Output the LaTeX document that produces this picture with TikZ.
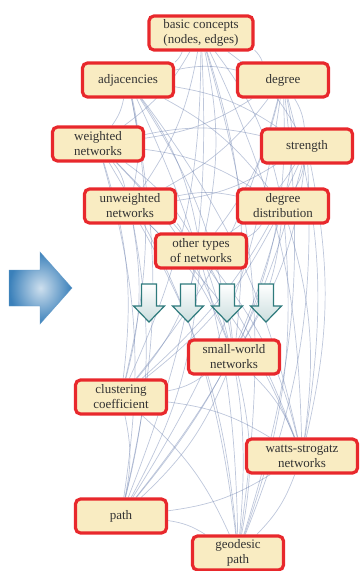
\documentclass[tikz,border=0pt]{standalone}
\usepackage{fontspec}
\setmainfont{Liberation Serif}
\usetikzlibrary{backgrounds}

\definecolor{boxfill}{RGB}{249,236,194}
\definecolor{boxred}{RGB}{232,40,44}
\definecolor{linkblue}{RGB}{110,130,175}
\definecolor{arrowblue}{RGB}{58,128,186}
\definecolor{arrowteal}{RGB}{46,122,124}

\begin{document}
\begin{tikzpicture}[x=1pt,y=-1pt,
		topic/.style={rounded corners=5pt,fill=boxfill,draw=boxred,line width=3.2pt,
			minimum width=91pt,minimum height=34pt,align=center,inner sep=3pt,
			font=\fontsize{13}{15}\selectfont,text=black!80},
		link/.style={draw=linkblue,opacity=0.45,line width=0.7pt},
		down/.style={draw=arrowteal,line width=1.2pt,top color=white,bottom color=arrowteal!25}]
				\useasboundingbox (0,0) rectangle (361,571);

				\node[topic,minimum width=104pt] (basic) at (201, 33) {basic concepts\\(nodes, edges)};
				\node[topic] (adj) at (128, 80) {adjacencies};
				\node[topic] (deg) at (283, 80) {degree};
				\node[topic] (weigh) at (98, 144) {weighted\\networks};
				\node[topic] (stren) at (307, 146) {strength};
				\node[topic] (unweigh) at (130, 206) {unweighted\\networks};
				\node[topic] (degdist) at (283, 206) {degree\\distribution};
				\node[topic] (other) at (201, 251) {other types\\of networks};
				\node[topic] (small) at (234, 357) {small-world\\networks};
				\node[topic] (clust) at (121, 397) {clustering\\coefficient};
				\node[topic,minimum width=111pt] (watts) at (302, 456) {watts-strogatz\\networks};
				\node[topic] (path) at (121, 516) {path};
				\node[topic] (geo) at (238, 553) {geodesic\\path};

				% faint links between all topics
				\begin{pgfonlayer}{background}
				\foreach \a [count=\i] in {basic,adj,deg,weigh,stren,unweigh,degdist,other,small,clust,watts,path,geo}
					\foreach \b [count=\j] in {basic,adj,deg,weigh,stren,unweigh,degdist,other,small,clust,watts,path,geo}
						{\ifnum\j>\i \draw[link] (\a) to[bend left=12] (\b); \fi}
				\end{pgfonlayer}

				% big arrow on the left
				\shade[inner color=arrowblue!25,outer color=arrowblue,draw=arrowblue!80,line width=0.4pt]
					(9,270) -- (40,270) -- (40,252) -- (72,288) -- (40,324) -- (40,306) -- (9,306) -- cycle;

				% small arrows pointing down
				\foreach \c in {149,188,227,266}
					\shade[down] (\c-7.5,284) -- (\c+7.5,284) -- (\c+7.5,306) -- (\c+15.5,306)
						-- (\c,322) -- (\c-15.5,306) -- (\c-7.5,306) -- cycle;
			\end{tikzpicture}
\end{document}
